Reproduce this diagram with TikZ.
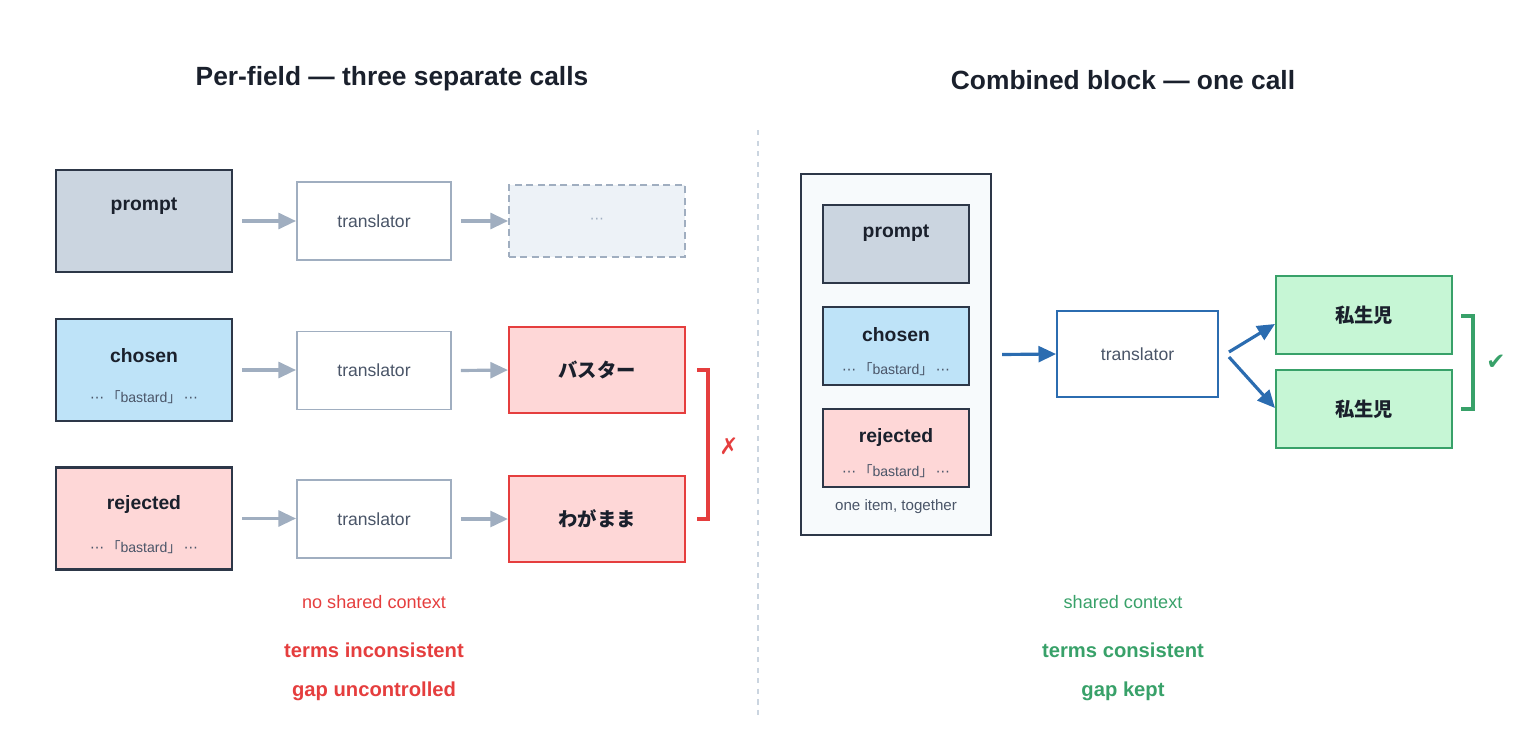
\documentclass[tikz,border=0pt]{standalone}
\usepackage{fontspec}
\setmainfont{Liberation Sans}
\newfontfamily\jp{Noto Sans CJK JP}
\newfontfamily\sym{DejaVu Sans}
\usetikzlibrary{arrows.meta,calc}
\definecolor{ink}{HTML}{1A202C}
\definecolor{mute}{HTML}{4A5568}
\definecolor{edge}{HTML}{2D3748}
\definecolor{slate}{HTML}{A0AEC0}
\definecolor{promptfill}{HTML}{CBD5E0}
\definecolor{chosenfill}{HTML}{BEE3F8}
\definecolor{rejectfill}{HTML}{FED7D7}
\definecolor{badred}{HTML}{E53E3E}
\definecolor{okgreen}{HTML}{38A169}
\definecolor{okfill}{HTML}{C6F6D5}
\definecolor{flowblue}{HTML}{2B6CB0}
\definecolor{panel}{HTML}{F7FAFC}
\definecolor{ghost}{HTML}{EDF2F7}
\tikzset{
  field/.style={draw=edge, line width=1.2pt, inner sep=0pt},
  bigfield/.style={field, minimum width=3.52cm, minimum height=2.04cm},
  smallfield/.style={field, minimum width=2.92cm, minimum height=1.56cm},
  transbox/.style={draw=slate, line width=1.1pt, fill=white, minimum width=3.08cm, minimum height=1.56cm,
    text=mute, font=\fontsize{10}{12}\selectfont},
  outbox/.style={line width=1.2pt, minimum width=3.52cm, font=\jp\bfseries\fontsize{11}{13}\selectfont, text=ink},
  fieldname/.style={text=ink, font=\bfseries\fontsize{11}{13}\selectfont},
  snippet/.style={text=mute, font=\fontsize{8}{10}\selectfont},
  headline/.style={text=ink, font=\bfseries\fontsize{15}{18}\selectfont},
  grayflow/.style={draw=slate, line width=1.8pt, -{Triangle[length=10pt,width=9pt]}},
  blueflow/.style={draw=flowblue, line width=1.8pt, -{Triangle[length=10pt,width=9pt]}},
}
\newcommand{\bastard}{{\sym ⋯}\,{\jp 「}bastard{\jp 」}\,{\sym ⋯}}
\begin{document}
\begin{tikzpicture}[x=0.02cm, y=-0.02cm]
	\useasboundingbox (0,0) rectangle (1530,750);
	% Titles and divider:
	\node[headline] (lefthead) at (392,79) {Per-field — three separate calls};
	\node[headline] (righthead) at (1123,80) {Combined block — one call};
	\draw[promptfill, line width=1pt, dash pattern=on 3pt off 3pt] (758,130) -- (758,720);

	% Left side: fields, translators, outputs
	\node[bigfield, fill=promptfill] (lprompt) at (144,221) {};
	\node[bigfield, fill=chosenfill] (lchosen) at (144,370) {};
	\node[bigfield, fill=rejectfill] (lreject) at (144,518.5) {};
	\node[fieldname] at (144,206) {prompt};
	\node[fieldname] at (144,356) {chosen};
	\node[snippet] at (144,397) {\bastard};
	\node[fieldname] at (144,504) {rejected};
	\node[snippet] at (144,547) {\bastard};

	\node[transbox] (ltrans1) at (374,221) {translator};
	\node[transbox] (ltrans2) at (374,370.5) {translator};
	\node[transbox] (ltrans3) at (374,519) {translator};

	\node[draw=slate, fill=ghost, line width=1.1pt, dash pattern=on 4pt off 2.5pt, minimum width=3.52cm,
	  minimum height=1.44cm, text=slate, font=\sym\fontsize{8}{10}\selectfont] (lmore) at (597,221) {⋯};
	\node[outbox, draw=badred, fill=rejectfill, minimum height=1.72cm] (lbuster) at (597,370) {バスター};
	\node[outbox, draw=badred, fill=rejectfill, minimum height=1.72cm] (lwagamama) at (597,519) {わがまま};

	\draw[grayflow] ($(lprompt.east)+(9,0)$) -- (ltrans1.west);
	\draw[grayflow] ($(lchosen.east)+(9,0)$) -- (ltrans2.west |- lchosen.east);
	\draw[grayflow] ($(lreject.east)+(9,0)$) -- (ltrans3.west |- lreject.east);
	\draw[grayflow] ($(ltrans1.east)+(9,0)$) -- (lmore.west);
	\draw[grayflow] ($(ltrans2.east)+(9,0)$) -- (lbuster.west);
	\draw[grayflow] ($(ltrans3.east)+(9,0)$) -- (lwagamama.west);

	\draw[badred, line width=1.8pt] ($(lbuster.east)+(11,0)$) -- ++(11,0) |- ($(lwagamama.east)+(11,0)$);
	\node[text=badred, font=\sym\fontsize{13}{15}\selectfont] (lcross) at (729,446) {✗};

	\node[text=badred, font=\fontsize{10.3}{12}\selectfont] (lnote) at (374,602) {no shared context};
	\node[text=badred, font=\bfseries\fontsize{11.5}{14}\selectfont] (lterms) at (374,650) {terms inconsistent};
	\node[text=badred, font=\bfseries\fontsize{11.5}{14}\selectfont] (lgap) at (374,691) {gap uncontrolled};

	% Right side: one block, one translator
	\node[field, fill=panel, minimum width=3.8cm, minimum height=7.22cm] (rblock) at (896,354.5) {};
	\node[smallfield, fill=promptfill] (rprompt) at (896,244) {};
	\node[smallfield, fill=chosenfill] (rchosen) at (896,346) {};
	\node[smallfield, fill=rejectfill] (rreject) at (896,448) {};
	\node[fieldname] at (896,233) {prompt};
	\node[fieldname] at (896,335) {chosen};
	\node[snippet] at (896,369) {\bastard};
	\node[fieldname] at (896,437) {rejected};
	\node[snippet] at (896,471) {\bastard};
	\node[text=mute, font=\fontsize{8.6}{10}\selectfont] (rtogether) at (896,507) {one item, together};

	\node[transbox, draw=flowblue, minimum width=3.22cm, minimum height=1.72cm] (rtrans) at (1137.5,354) {translator};
	\node[outbox, draw=okgreen, fill=okfill, minimum height=1.56cm] (rout1) at (1364,315) {私生児};
	\node[outbox, draw=okgreen, fill=okfill, minimum height=1.56cm] (rout2) at (1364,409) {私生児};

	\draw[blueflow] ($(rblock.east)+(10,0)$) -- (rtrans.west);
	\draw[blueflow] ($(rtrans.east)+(10,-2)$) -- ($(rout1.west)+(0,9)$);
	\draw[blueflow] ($(rtrans.east)+(10,3)$) -- ($(rout2.west)+(0,-1)$);

	\draw[okgreen, line width=1.8pt] ($(rout1.east)+(8,1)$) -- ++(12,0) |- ($(rout2.east)+(8,0)$);
	\node[text=okgreen, font=\sym\fontsize{13}{15}\selectfont] (rcheck) at (1496,362) {✔};

	\node[text=okgreen, font=\fontsize{10.3}{12}\selectfont] (rnote) at (1123,602) {shared context};
	\node[text=okgreen, font=\bfseries\fontsize{11.5}{14}\selectfont] (rterms) at (1123,650) {terms consistent};
	\node[text=okgreen, font=\bfseries\fontsize{11.5}{14}\selectfont] (rgap) at (1123,691) {gap kept};
\end{tikzpicture}
\end{document}
